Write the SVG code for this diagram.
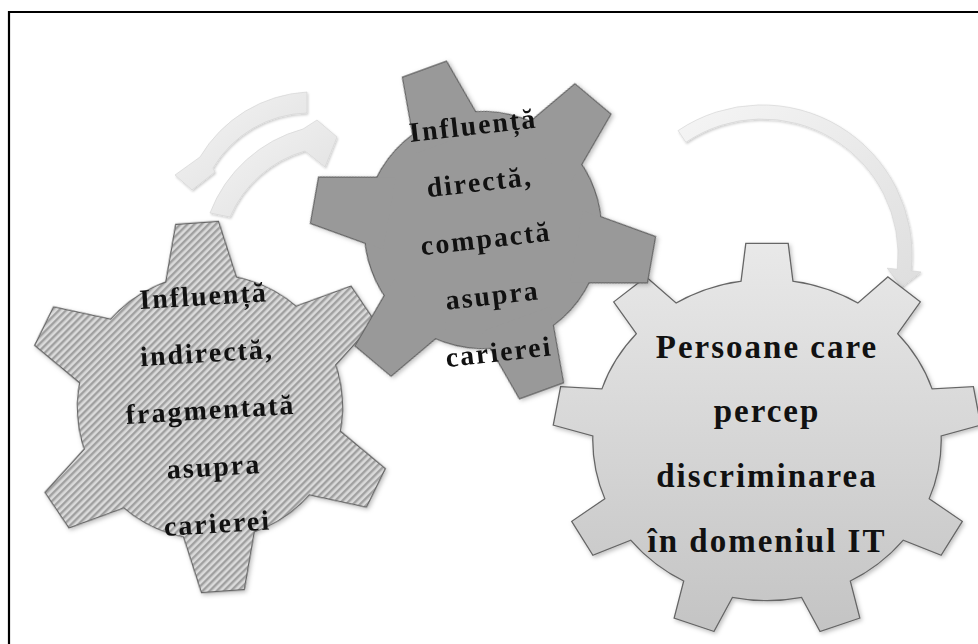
<svg xmlns="http://www.w3.org/2000/svg" width="978" height="644" viewBox="0 0 978 644">
<defs>
<style>
.edge{stroke:#666;stroke-width:2.4;stroke-linejoin:miter}
.lbl{font-family:"Liberation Serif","Times New Roman",serif;font-weight:bold;fill:#111;text-anchor:middle}
.s28{font-size:28px;letter-spacing:2px}
.s33{font-size:33px;letter-spacing:2px}
.arrow{fill:url(#gArrow);stroke:#d2d2d2;stroke-width:0.6;filter:url(#shArrow)}
.frame{stroke:#000;stroke-width:2.2;fill:none}
</style>
<linearGradient id="gArrow" x1="0" y1="0" x2="1" y2="1"><stop offset="0" stop-color="#f5f5f5"/><stop offset="1" stop-color="#dedede"/></linearGradient>
<linearGradient id="gRight" gradientUnits="userSpaceOnUse" x1="0" y1="240" x2="0" y2="640"><stop offset="0" stop-color="#e9e9e9"/><stop offset="1" stop-color="#c3c3c3"/></linearGradient>
<pattern id="hatch" patternUnits="userSpaceOnUse" width="5" height="5" patternTransform="rotate(45)"><rect width="5" height="5" fill="#dadada"/><rect width="2.4" height="5" fill="#a0a0a0"/></pattern>
<filter id="shArrow" x="-20%" y="-20%" width="140%" height="140%"><feDropShadow dx="1" dy="1.5" stdDeviation="1.2" flood-color="#000" flood-opacity="0.2"/></filter>
<filter id="shGear" x="-10%" y="-10%" width="120%" height="120%"><feDropShadow dx="1.5" dy="2" stdDeviation="2" flood-color="#000" flood-opacity="0.25"/></filter>
<polygon id="t9" points="-19,-196 19,-196 25.5,-140 -25.5,-140"/>
<polygon id="t6M" points="-23,-170.5 23,-170.5 36.2,-95 -36.2,-95"/>
<polygon id="t6L" points="-21,-184 21,-184 38.7,-112 -38.7,-112"/>
<g id="gear9"><circle r="160"/><use href="#t9"/><use href="#t9" transform="rotate(40)"/><use href="#t9" transform="rotate(80)"/><use href="#t9" transform="rotate(120)"/><use href="#t9" transform="rotate(160)"/><use href="#t9" transform="rotate(200)"/><use href="#t9" transform="rotate(240)"/><use href="#t9" transform="rotate(280)"/><use href="#t9" transform="rotate(320)"/></g>
<g id="gear6M"><circle r="118"/><use href="#t6M"/><use href="#t6M" transform="rotate(60)"/><use href="#t6M" transform="rotate(120)"/><use href="#t6M" transform="rotate(180)"/><use href="#t6M" transform="rotate(240)"/><use href="#t6M" transform="rotate(300)"/></g>
<g id="gear6L"><circle r="132"/><use href="#t6L"/><use href="#t6L" transform="rotate(60)"/><use href="#t6L" transform="rotate(120)"/><use href="#t6L" transform="rotate(180)"/><use href="#t6L" transform="rotate(240)"/><use href="#t6L" transform="rotate(300)"/></g>
<clipPath id="clipR" transform="translate(767,440) scale(1.085,1)"><circle r="160"/><use href="#t9"/><use href="#t9" transform="rotate(40)"/><use href="#t9" transform="rotate(80)"/><use href="#t9" transform="rotate(120)"/><use href="#t9" transform="rotate(160)"/><use href="#t9" transform="rotate(200)"/><use href="#t9" transform="rotate(240)"/><use href="#t9" transform="rotate(280)"/><use href="#t9" transform="rotate(320)"/></clipPath>
<clipPath id="clipL" transform="translate(210,407) rotate(-4)"><circle r="132"/><use href="#t6L"/><use href="#t6L" transform="rotate(60)"/><use href="#t6L" transform="rotate(120)"/><use href="#t6L" transform="rotate(180)"/><use href="#t6L" transform="rotate(240)"/><use href="#t6L" transform="rotate(300)"/></clipPath>
</defs>

<rect width="978" height="644" fill="#fff"/>
<path class="frame" d="M9,644 V12 H978"/>

<g id="connectors">
<path class="arrow" d="M307,92 A133,133 0 0 0 200,157 L175,175 L192,190 L215,172 L213,168 A112,112 0 0 1 307,113 Z"/>
<path class="arrow" d="M210,213 A138,138 0 0 1 303,129 L317,120 L337,137 L325,167 L305,151 A116,116 0 0 0 230,217 Z"/>
<path class="arrow" d="M678.1,130.6 A150,150 0 0 1 911.2,270.7 L921,272 L901.3,287.2 L887.3,268.2 L897.3,269.2 A136,136 0 0 0 685.9,142.3 Z"/>
</g>

<g id="gear-left">
<use href="#gear6L" class="edge" fill="#c8c8c8" filter="url(#shGear)" transform="translate(210,407) rotate(-4)"/>
<rect x="15" y="210" width="390" height="395" fill="url(#hatch)" clip-path="url(#clipL)"/>
<g class="lbl s28" transform="rotate(-3.5 210 419)">
<text x="211" y="305">Influență</text>
<text x="211" y="362">indirectă,</text>
<text x="211" y="419">fragmentată</text>
<text x="211" y="476">asupra</text>
<text x="211" y="533">carierei</text>
</g>
</g>

<g id="gear-right">
<use href="#gear9" class="edge" fill="#d0d0d0" filter="url(#shGear)" transform="translate(767,440) scale(1.085,1)"/>
<rect x="540" y="230" width="438" height="414" fill="url(#gRight)" clip-path="url(#clipR)"/>
<g class="lbl s33">
<text x="767" y="358">Persoane care</text>
<text x="767" y="422">percep</text>
<text x="767" y="487">discriminarea</text>
<text x="767" y="552">în domeniul  IT</text>
</g>
</g>

<g id="gear-middle">
<use href="#gear6M" class="edge" fill="#999" filter="url(#shGear)" transform="translate(483,230) rotate(-20)"/>
<use href="#gear6M" fill="#999" transform="translate(483,230) rotate(-20)"/>
<g class="lbl s28" transform="rotate(-6.5 486 248)">
<text x="487" y="134">Influență</text>
<text x="487" y="191">directă,</text>
<text x="487" y="248">compactă</text>
<text x="487" y="305">asupra</text>
<text x="487" y="362">carierei</text>
</g>
</g>
</svg>
